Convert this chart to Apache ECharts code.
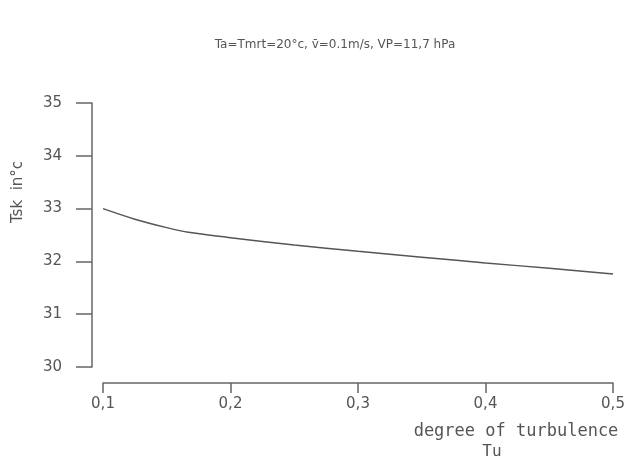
<!DOCTYPE html>
<html>
<head>
<meta charset="utf-8">
<script src="https://cdn.jsdelivr.net/npm/echarts@6/dist/echarts.min.js"></script>
<style>
  html, body { margin: 0; padding: 0; background: #fff; }
  #box { width: 633px; height: 460px; }
</style>
</head>
<body>
<div id="box"></div>
<script>
// degree of turbulence Tu
var tu = [0.1, 0.125, 0.15, 0.167, 0.2, 0.25, 0.3, 0.35, 0.4, 0.45, 0.5]
// skin temperature Tsk in °c
var tsk = [33.0, 32.8, 32.64, 32.55, 32.45, 32.31, 32.19, 32.08, 31.97, 31.87, 31.76]
var xTicks = ['0,1', '0,2', '0,3', '0,4', '0,5']
var yTicks = [30, 31, 32, 33, 34, 35]

var font = 'DejaVu Sans'
var mono = 'DejaVu Sans Mono'
var ink = '#555'

var Chart = echarts.init(document.getElementById('box'))
var option = {
    animation: false,
    grid: { left: 103, right: 20, top: 103, bottom: 93 },
    xAxis: {
        type: 'value',
        min: 0.1,
        max: 0.5,
        interval: 0.1,
        offset: 16,
        axisLine: { lineStyle: { color: '#666', width: 1.5 } },
        axisTick: { length: 10, lineStyle: { color: '#666', width: 1.5 } },
        splitLine: { show: false },
        axisLabel: {
            margin: 14,
            color: ink,
            fontFamily: font,
            fontSize: 15,
            formatter: function (v) {
                return xTicks[Math.round((v - 0.1) * 10)]
            }
        }
    },
    yAxis: {
        type: 'value',
        min: yTicks[0],
        max: yTicks[yTicks.length - 1],
        interval: 1,
        offset: 11,
        axisLine: { show: true, lineStyle: { color: '#666', width: 1.5 } },
        axisTick: { show: true, length: 16, lineStyle: { color: '#666', width: 1.5 } },
        splitLine: { show: false },
        axisLabel: { margin: 30, color: ink, fontFamily: font, fontSize: 15 }
    },
    graphic: [
        {
            type: 'text', x: 335, y: 45,
            style: { text: 'Ta=Tmrt=20°c, v\u0304=0.1m/s, VP=11,7 hPa', fill: ink, font: '12px ' + font, textAlign: 'center', textVerticalAlign: 'middle' }
        },
        {
            type: 'text', x: 18, y: 192, rotation: Math.PI / 2,
            style: { text: 'Tsk  in°c', fill: ink, font: '15px ' + font, textAlign: 'center', textVerticalAlign: 'middle' }
        },
        {
            type: 'text', x: 516, y: 432,
            style: { text: 'degree of turbulence', fill: ink, font: '17px ' + mono, textAlign: 'center', textVerticalAlign: 'middle' }
        },
        {
            type: 'text', x: 492, y: 452,
            style: { text: 'Tu', fill: ink, font: '16px ' + mono, textAlign: 'center', textVerticalAlign: 'middle' }
        }
    ],
    series: [{
        type: 'line',
        data: tu.map(function (x, i) { return [x, tsk[i]] }),
        smooth: 0.3,
        showSymbol: false,
        lineStyle: { color: '#555', width: 1.5 }
    }]
}
Chart.setOption(option)
</script>
</body>
</html>
